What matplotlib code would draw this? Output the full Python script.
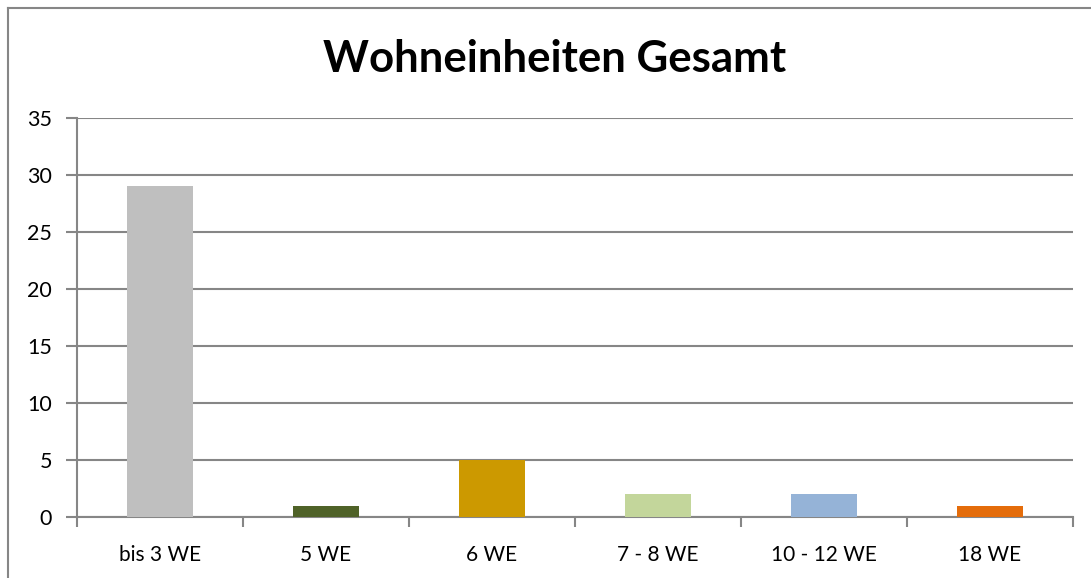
import matplotlib.pyplot as plt
from matplotlib.lines import Line2D

categories = ["bis 3 WE", "5 WE", "6 WE", "7 - 8 WE", "10 - 12 WE", "18 WE"]
values = [29, 1, 5, 2, 2, 1]
colors = ["#BFBFBF", "#4F6228", "#CC9900", "#C3D69B", "#95B3D7", "#E46C0A"]
yticks = [0, 5, 10, 15, 20, 25, 30, 35]

plt.rcParams['font.family'] = ['Lato', 'DejaVu Sans']
grey = "#868686"

fig = plt.figure(figsize=(10.91, 5.78), dpi=100)
ax = fig.add_axes([77 / 1091, 1 - 517 / 578, (1073 - 77) / 1091, (517 - 118) / 578])

x = range(len(categories))
ax.bar(x, values, width=0.4, color=colors, zorder=3)

ax.set_xlim(-0.5, len(categories) - 0.5)
ax.set_ylim(0, 35)
ax.set_yticks(yticks)
ax.set_xticks(list(x))
ax.set_xticklabels(categories, fontsize=15)
ax.tick_params(axis='y', labelsize=15.5, length=8, width=1.5, color=grey, pad=10)
ax.tick_params(axis='x', length=0, pad=20)
# boundary ticks between categories
ax.set_xticks([i - 0.5 for i in range(len(categories) + 1)], minor=True)
ax.tick_params(axis='x', which='minor', length=7, width=1.5, color=grey)

ax.grid(axis='y', color=grey, linewidth=1.5, zorder=0)
for s in ['top', 'right']:
    ax.spines[s].set_visible(False)
for s in ['left', 'bottom']:
    ax.spines[s].set_color(grey)
    ax.spines[s].set_linewidth(1.5)

fig.text(0.5085, 1 - 72 / 578, "Wohneinheiten Gesamt", ha='center', va='baseline',
         fontsize=31.5, fontweight='bold')

# chart area frame
fig.add_artist(Line2D([7.5 / 1091, 7.5 / 1091], [0, 1 - 7.5 / 578], color=grey, linewidth=1.5))
fig.add_artist(Line2D([7.5 / 1091, 1], [1 - 7.5 / 578, 1 - 7.5 / 578], color=grey, linewidth=1.5))

fig.savefig("out.png", dpi=100)
